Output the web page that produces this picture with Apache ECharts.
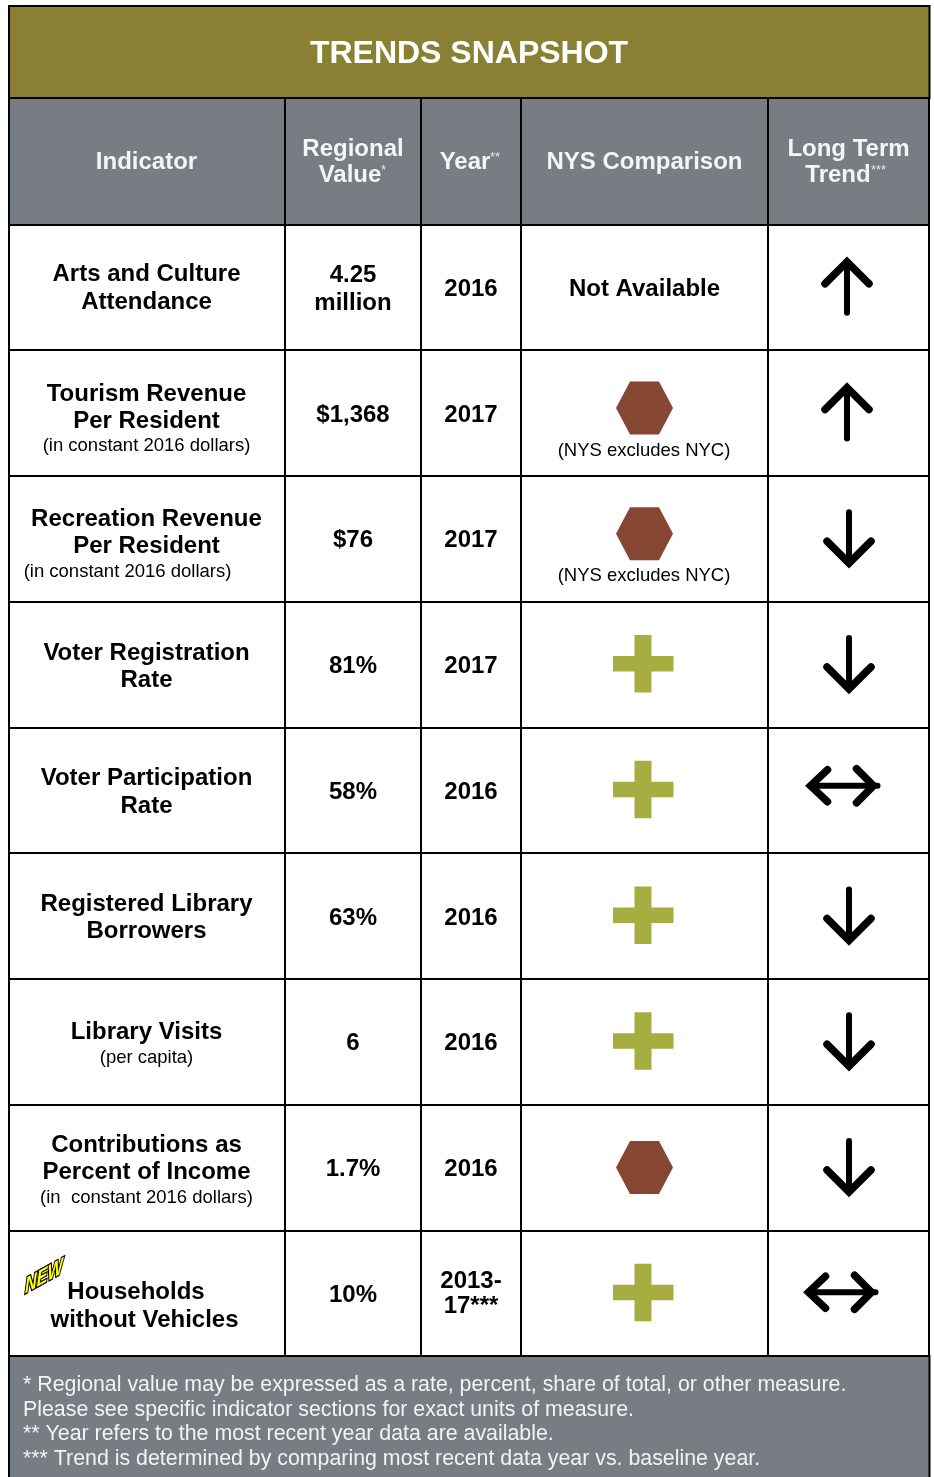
<!DOCTYPE html>
<html><head><meta charset="utf-8">
<style>html,body{margin:0;padding:0;background:#fff}#c{width:934px;height:1477px}</style>
<script src="https://cdn.jsdelivr.net/npm/echarts@6/dist/echarts.min.js"></script>
</head><body><div id="c"></div>
<script>
// ---- data ----
const titleText = 'TRENDS SNAPSHOT';
const rowIds = ['arts','tourism','recreation','registration','participation','borrowers','visits','contributions','households'];
const indicatorLines = [
  ['Arts and Culture','Attendance'],
  ['Tourism Revenue','Per Resident'],
  ['Recreation Revenue','Per Resident'],
  ['Voter Registration','Rate'],
  ['Voter Participation','Rate'],
  ['Registered Library','Borrowers'],
  ['Library Visits'],
  ['Contributions as','Percent of Income'],
  ['Households','without Vehicles']
];
const indicatorNotes = ['','(in constant 2016 dollars)','(in constant 2016 dollars)','','','','(per capita)','(in  constant 2016 dollars)',''];
const regionalValues = [['4.25','million'],['$1,368'],['$76'],['81%'],['58%'],['63%'],['6'],['1.7%'],['10%']];
const years = [['2016'],['2017'],['2017'],['2017'],['2016'],['2016'],['2016'],['2016'],['2013-','17***']];
const nysComparison = ['Not Available','worse','worse','better','better','better','better','worse','better'];
const nysNotes = ['','(NYS excludes NYC)','(NYS excludes NYC)','','','','','',''];
const longTermTrend = ['up','up','down','down','flat','down','down','down','flat'];
const footnotes = [
  '* Regional value may be expressed as a rate, percent, share of total, or other measure.',
  'Please see specific indicator sections for exact units of measure.',
  '** Year refers to the most recent year data are available.',
  '*** Trend is determined by comparing most recent data year vs. baseline year.'
];
const newBadge = 'NEW';

// ---- layout and style ----
const FONT = '"Liberation Sans", Arial, sans-serif';
const OLIVE = '#8a8033', GREY = '#777d83', HEX = '#854634', PLUS = '#a6ad41', INK = '#000', HEAD = '#f4f5f5';
const colLines = [285, 421, 521, 768];
const colCenter = {indicator:146.5, value:353, year:471, nys:644.5, trend:848};
const lineGap = 27.3;

function hdr(x, y, t){
  return {type:'text', x, y, z:5, style:{text:t, fontFamily:FONT, fontWeight:'bold', fontSize:24, fill:HEAD, align:'center', verticalAlign:'middle'}};
}
function sup(x, y, t){
  return {type:'text', x, y, z:5, style:{text:t, fontFamily:FONT, fontSize:13, fill:'#e6e8e9', align:'left', verticalAlign:'middle'}};
}
const graphics = [
  {type:'rect', z:1, shape:{x:9,y:6,width:920.5,height:92}, style:{fill:OLIVE, stroke:INK, lineWidth:2}},
  {type:'rect', z:1, shape:{x:9,y:98,width:920,height:127}, style:{fill:GREY, stroke:INK, lineWidth:2}},
  {type:'rect', z:1, shape:{x:9,y:225,width:920,height:1131}, style:{fill:'none', stroke:INK, lineWidth:2}},
  {type:'rect', z:1, shape:{x:9,y:1356,width:920.5,height:130}, style:{fill:GREY, stroke:INK, lineWidth:2}},
  {type:'text', x:469, y:54, z:5, style:{text:titleText, fontFamily:FONT, fontWeight:'bold', fontSize:32, fill:'#fff', align:'center', verticalAlign:'middle'}},
  hdr(146.5, 162, 'Indicator'),
  hdr(353, 149.5, 'Regional'),
  hdr(350, 175.5, 'Value'),
  sup(381, 170, '*'),
  hdr(465, 162, 'Year'),
  sup(490, 157, '**'),
  hdr(644.5, 162, 'NYS Comparison'),
  hdr(848.5, 149.5, 'Long Term'),
  hdr(838, 175.5, 'Trend'),
  sup(871, 170, '***'),
  {type:'text', x:44, y:1277, z:6, skewY:0.5, scaleX:0.74, style:{text:newBadge, fontFamily:FONT, fontWeight:'bold', fontStyle:'italic', fontSize:22, fill:'#ffff00', stroke:'#000', lineWidth:2.8, align:'center', verticalAlign:'middle'}}
];
colLines.forEach(x => graphics.push({type:'line', z:3, shape:{x1:x,y1:98,x2:x,y2:1356}, style:{stroke:INK, lineWidth:2}}));
footnotes.forEach((t,i) => graphics.push({type:'text', x:23, y:[1385,1410,1434,1459][i], z:5,
  style:{text:t, fontFamily:FONT, fontSize:21.35, fill:'#f2f3f3', align:'left', verticalAlign:'middle'}}));

function label(x, y, text, bold, size){
  return {type:'text', x, y:y+2, style:{text, fontFamily:FONT, fontWeight:bold?'bold':'normal', fontSize:size, fill:'#000', align:'center', verticalAlign:'middle'}};
}
const noteShift = {2:-19};          // this note sits left of its cell in the source
const firstLineShift = {8:[-10.5,-2]};
const indicatorRowShift = {0:-1, 1:-0.5, 2:-1, 7:-3.5, 8:11};
const indicatorGap = {8:28};
const textSeries = (name, col, lines) => ({
  name, type:'custom', coordinateSystem:'cartesian2d', z:4, silent:true,
  data: rowIds.map((_,i)=>[colCenter[col], i]),
  renderItem(params, api){
    const i = params.dataIndex, p = api.coord([api.value(0), i]);
    const ls = lines[i], gap = ls[0]==='2013-' ? 25 : lineGap, extra = ls[0]==='2013-' ? -1 : 0;
    const start = -(ls.length-1)*gap/2 + extra;
    return {type:'group', children: ls.map((t,k)=>label(p[0], p[1]+start+k*gap, t, true, 24))};
  }
});
const indicatorSeries = {
  name:'Indicator', type:'custom', coordinateSystem:'cartesian2d', z:4, silent:true,
  data: rowIds.map((_,i)=>[colCenter.indicator, i]),
  renderItem(params, api){
    const i = params.dataIndex, p = api.coord([api.value(0), i]);
    const ls = indicatorLines[i], note = indicatorNotes[i], g = indicatorGap[i]||lineGap;
    const start = (note ? -11-(ls.length-1)*9.5 : -(ls.length-1)*g/2) + (indicatorRowShift[i]||0);
    const kids = ls.map((t,k)=>label(p[0]+((firstLineShift[i]||[])[k]||0), p[1]+start+k*g, t, true, 24));
    if(note) kids.push(label(p[0]+(noteShift[i]||0), p[1]+start+(ls.length-1)*g+25, note, false, 18.5));
    return {type:'group', children:kids};
  }
};
const hexShape = [[-28.5,0],[-14.5,-26.5],[14.5,-26.5],[28.5,0],[14.5,26.5],[-14.5,26.5]];
const plusShape = [[-9,-29],[8,-29],[8,-8],[30,-8],[30,7.5],[8,7.5],[8,28.5],[-9,28.5],[-9,7.5],[-30.5,7.5],[-30.5,-8],[-9,-8]];
const nysSeries = {
  name:'NYS Comparison', type:'custom', coordinateSystem:'cartesian2d', z:4, silent:true,
  data: rowIds.map((_,i)=>[colCenter.nys, i]),
  renderItem(params, api){
    const i = params.dataIndex, p = api.coord([api.value(0), i]);
    const kind = nysComparison[i], note = nysNotes[i], kids=[];
    const dy = note ? -5 : 0;
    const at = (s,ox,oy)=>s.map(q=>[p[0]+ox+q[0], p[1]+oy+q[1]]);
    if(kind==='worse') kids.push({type:'polygon', shape:{points:at(hexShape,0,dy)}, style:{fill:HEX}});
    else if(kind==='better') kids.push({type:'polygon', shape:{points:at(plusShape,-1,-0.5)}, style:{fill:PLUS}});
    else kids.push(label(p[0], p[1], kind, true, 24));
    if(note) kids.push(label(p[0]-0.5, p[1]+35.5, note, false, 18.5));
    return {type:'group', children:kids};
  }
};
const arrowPaths = {
  up:   {dx:-1, lines:[[[0,-24],[0,26]], [[-22,-3],[0,-25],[22,-3]]]},
  down: {dx:1,  lines:[[[0,-26],[0,25]], [[-22,3],[0,25],[22,3]]]},
  flat: {dx:-5.5, lines:[[[-32,0],[35,0]], [[-15,-16],[-32,0],[-15,16]], [[14,-17],[31,0],[14,17]]]}
};
const trendRowShift = {4:-4, 8:-0.5};
const trendSeries = {
  name:'Long Term Trend', type:'custom', coordinateSystem:'cartesian2d', z:4, silent:true,
  data: rowIds.map((_,i)=>[colCenter.trend, i]),
  renderItem(params, api){
    const i = params.dataIndex, p = api.coord([api.value(0), i]);
    const a = arrowPaths[longTermTrend[i]], sx = i===8 ? -2 : 0, sy = trendRowShift[i]||0;
    return {type:'group', children:a.lines.map((l,k)=>({type:'polyline',
      shape:{points:l.map(q=>[p[0]+a.dx+sx+q[0], p[1]-0.5+sy+q[1]])},
      style:{fill:null, stroke:'#000', lineWidth:k===0?6:7.5, lineCap:'round', lineJoin:'miter'}}))};
  }
};

const chart = echarts.init(document.getElementById('c'), null, {renderer:'canvas'});
chart.setOption({
  animation:false,
  backgroundColor:'#fff',
  grid:{left:9, top:224.4, width:920, height:1131.75, containLabel:false},
  xAxis:{type:'value', min:9, max:929, show:false},
  yAxis:{type:'category', data:rowIds, inverse:true, axisLine:{show:false}, axisTick:{show:false}, axisLabel:{show:false},
    splitLine:{show:true, lineStyle:{color:'#000', width:2}}},
  graphic:graphics,
  series:[indicatorSeries, textSeries('Regional Value','value',regionalValues), textSeries('Year','year',years), nysSeries, trendSeries]
});
</script></body></html>
